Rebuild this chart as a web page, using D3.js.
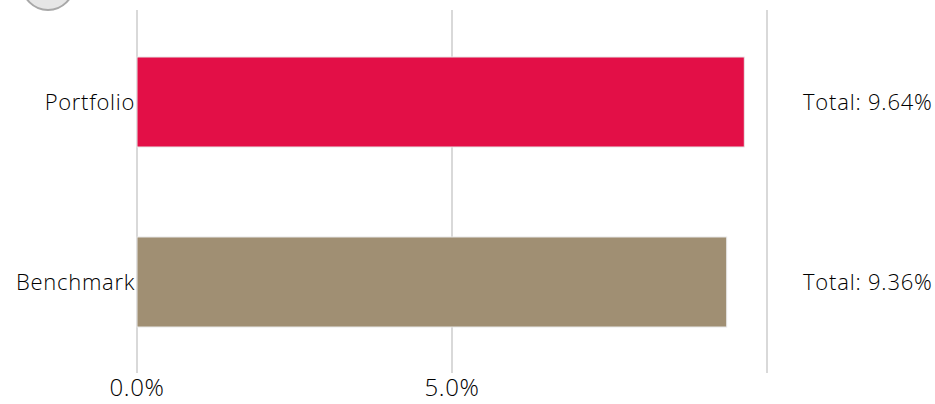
<!DOCTYPE html>
<html>
<head>
<meta charset="utf-8">
<script src="https://cdn.jsdelivr.net/npm/d3@7"></script>
<style>
  body { margin: 0; background: #fff; }
  svg text { font-family: "Open Sans", "Noto Sans", sans-serif; fill: #000; }
</style>
</head>
<body>
<div id="chart"></div>
<script>
const categories = ['Portfolio', 'Benchmark'];
const values = [9.64, 9.36];
const totalLabels = ['Total: 9.64%', 'Total: 9.36%'];
const colors = ['#e30f47', '#a08f73'];
const tickValues = [0, 5, 10];

const width = 935, height = 404;

const svg = d3.select('#chart').append('svg')
              .attr('width', width)
              .attr('height', height);

const x = d3.scaleLinear()
            .domain([0, 10])
            .range([137, 767]);

const y = d3.scaleBand()
            .domain(categories)
            .range([12, 372])
            .paddingInner(0.5)
            .paddingOuter(0.25);

// cropped icon at the top left
svg.append('circle')
   .attr('cx', 48).attr('cy', -16).attr('r', 26)
   .attr('fill', '#e6e6e6')
   .attr('stroke', '#a8a8a8')
   .attr('stroke-width', 2);

// grid lines
svg.append('g').selectAll('line')
   .data(tickValues)
   .join('line')
   .attr('x1', d => x(d)).attr('x2', d => x(d))
   .attr('y1', 10).attr('y2', 373)
   .attr('stroke', '#d9d9d9')
   .attr('stroke-width', 2);

// tick labels (the 10% one falls off the chart area in the original)
svg.append('g').selectAll('text')
   .data(tickValues.slice(0, 2))
   .join('text')
   .attr('x', d => x(d))
   .attr('y', 396)
   .attr('text-anchor', 'middle')
   .attr('font-size', 24)
   .attr('font-weight', 300)
   .attr('letter-spacing', 0.6)
   .text(d => d.toFixed(1) + '%');

const bars = svg.append('g');

bars.selectAll('rect')
    .data(values)
    .join('rect')
    .attr('x', x(0))
    .attr('y', (d, i) => y(categories[i]))
    .attr('width', d => x(d) - x(0))
    .attr('height', y.bandwidth())
    .attr('fill', (d, i) => colors[i])
    .attr('stroke', '#e8e8e8')
    .attr('stroke-width', 1);

// category labels
svg.append('g').selectAll('text')
   .data(categories)
   .join('text')
   .attr('x', 135)
   .attr('y', d => y(d) + y.bandwidth() / 2 + 8)
   .attr('text-anchor', 'end')
   .attr('font-size', 22)
   .attr('font-weight', 300)
   .attr('letter-spacing', 0.7)
   .text(d => d);

// totals on the right
svg.append('g').selectAll('text')
   .data(totalLabels)
   .join('text')
   .attr('x', 803)
   .attr('y', (d, i) => y(categories[i]) + y.bandwidth() / 2 + 8)
   .attr('font-size', 22)
   .attr('font-weight', 300)
   .attr('letter-spacing', 0.8)
   .text(d => d);
</script>
</body>
</html>
